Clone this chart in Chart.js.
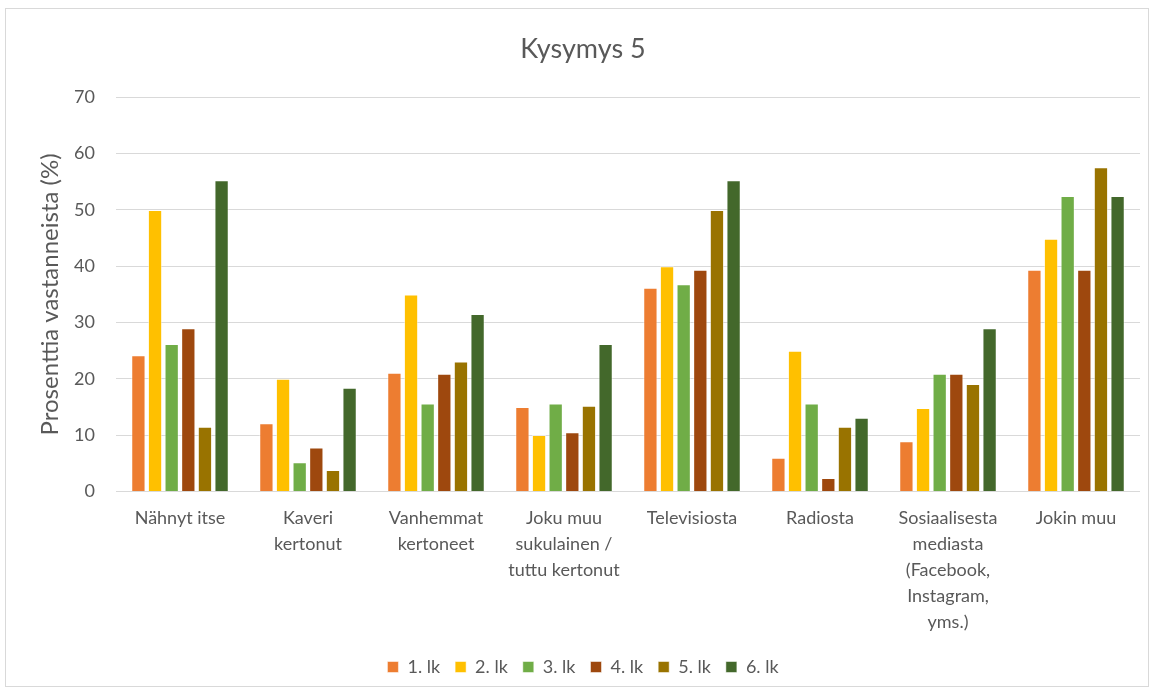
<!DOCTYPE html>
<html>
<head>
<meta charset="utf-8">
<script src="https://cdn.jsdelivr.net/npm/chart.js@4"></script>
<style>
  body { margin: 0; background: #fff; }
  #box { position: absolute; left: 5px; top: 8px; width: 1144px; height: 679px; border: 1px solid #d9d9d9; box-sizing: border-box; }
  canvas { display: block; }
</style>
</head>
<body>
<div id="box"><canvas id="chart" width="1142" height="677"></canvas></div>
<script>
// categories and values
const categories = [
  'Nähnyt itse',
  ['Kaveri', 'kertonut'],
  ['Vanhemmat', 'kertoneet'],
  ['Joku muu', 'sukulainen /', 'tuttu kertonut'],
  'Televisiosta',
  'Radiosta',
  ['Sosiaalisesta', 'mediasta', '(Facebook,', 'Instagram,', 'yms.)'],
  'Jokin muu'
];
const lk1 = [24.2, 12.1, 21.1, 15.0, 36.2, 6.0, 8.9, 39.4];
const lk2 = [50.0, 20.0, 35.0, 10.0, 40.0, 25.0, 14.8, 44.9];
const lk3 = [26.2, 5.2, 15.6, 15.6, 36.8, 15.6, 20.9, 52.5];
const lk4 = [29.0, 7.8, 20.9, 10.5, 39.4, 2.4, 20.9, 39.4];
const lk5 = [11.5, 3.8, 23.1, 15.2, 50.0, 11.5, 19.1, 57.6];
const lk6 = [55.3, 18.4, 31.5, 26.2, 55.3, 13.1, 29.0, 52.5];
const seriesNames = ['1. lk', '2. lk', '3. lk', '4. lk', '5. lk', '6. lk'];
const colors = ['#ED7D31', '#FFC000', '#70AD47', '#9E480E', '#997300', '#43682B'];

const allSeries = [lk1, lk2, lk3, lk4, lk5, lk6];
const textColor = '#595959';
const font = 'Lato, "Open Sans", sans-serif';

new Chart(document.getElementById('chart'), {
  type: 'bar',
  data: {
    labels: categories,
    datasets: allSeries.map((d, i) => ({
      label: seriesNames[i],
      data: d,
      backgroundColor: colors[i],
      borderColor: 'rgba(255,255,255,0.5)',
      borderWidth: 1,
      categoryPercentage: 0.78,
      barPercentage: 0.86
    }))
  },
  options: {
    responsive: false,
    animation: false,
    layout: { padding: { left: 20, right: 8, top: 10, bottom: 0 } },
    plugins: {
      title: {
        display: true,
        text: 'Kysymys 5',
        color: textColor,
        font: { family: font, size: 27, weight: 'normal' },
        padding: { top: 14, bottom: 32 }
      },
      legend: {
        position: 'bottom',
        labels: {
          color: textColor,
          font: { family: font, size: 18 },
          boxWidth: 11,
          boxHeight: 11,
          padding: 15
        }
      },
      tooltip: { enabled: false }
    },
    scales: {
      x: {
        afterFit: s => { s.height += 2; },
        grid: { display: false },
        border: { display: false },
        ticks: { color: textColor, font: { family: font, size: 18, lineHeight: 1.44 }, maxRotation: 0, padding: 6, autoSkip: false }
      },
      y: {
        min: 0,
        max: 70,
        afterFit: s => { s.width = 90; },
        ticks: { stepSize: 10, color: textColor, font: { family: font, size: 18 }, padding: 21 },
        grid: { color: '#d9d9d9', lineWidth: 1, drawTicks: false },
        border: { display: false },
        title: {
          display: true,
          text: 'Prosenttia vastanneista (%)',
          color: textColor,
          font: { family: font, size: 24 },
          padding: { top: 10, bottom: 0 }
        }
      }
    }
  }
});
</script>
</body>
</html>
